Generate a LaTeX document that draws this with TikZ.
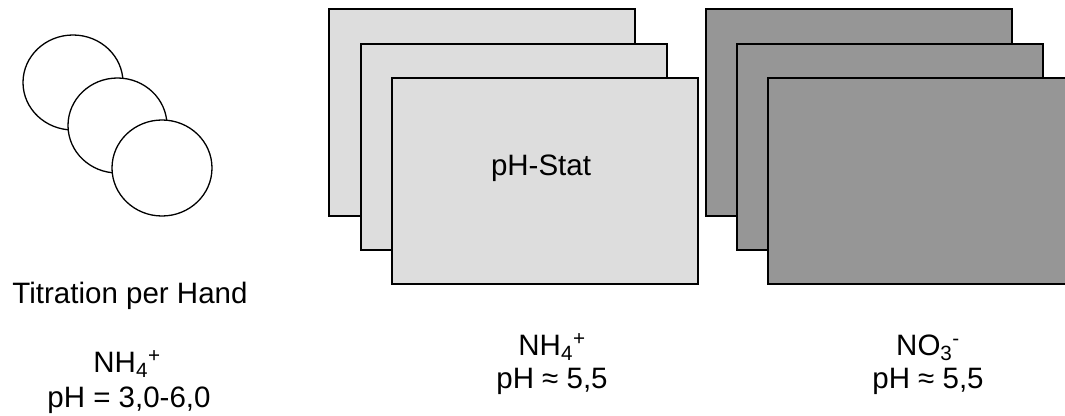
\documentclass[tikz,border=0pt]{standalone}
\usepackage{fontspec}
\setmainfont{Liberation Sans}
\definecolor{lightfill}{HTML}{DDDDDD}
\definecolor{darkfill}{HTML}{969696}
\tikzset{
  disc/.style={draw=black, line width=1.3pt, fill=white},
  lightcard/.style={draw=black, line width=1.4pt, fill=lightfill},
  darkcard/.style={draw=black, line width=1.4pt, fill=darkfill},
  lbl/.style={anchor=base, inner sep=0pt, font=\fontsize{29.5}{34}\selectfont}
}
\begin{document}
\begin{tikzpicture}[x=1pt,y=-1pt]
\useasboundingbox (0,0) rectangle (1065,415);
\clip (0,0) rectangle (1065,415);
% circles
\draw[disc] (73,82.5) ellipse [x radius=50, y radius=47.5];
\draw[disc] (117.5,125.5) ellipse [x radius=49.5, y radius=47.5];
\draw[disc] (162,168) ellipse [x radius=50, y radius=48];
% light cards
\draw[lightcard] (329,9) rectangle (635,216);
\draw[lightcard] (361,44) rectangle (667,250);
\draw[lightcard] (392,78) rectangle (698,284);
% dark cards
\draw[darkcard] (706,9) rectangle (1012,216);
\draw[darkcard] (737,44) rectangle (1043,250);
\draw[darkcard] (768,78) rectangle (1074,284);
% labels
\node[lbl] (stat) at (541,175) {pH-Stat};
\node[lbl] (hand) at (130,303) {Titration per Hand};
\node[lbl] (ion1) at (127,372) {NH\textsubscript{4}\textsuperscript{+}};
\node[lbl] (ph1) at (129,407) {pH = 3,0-6,0};
\node[lbl] (ion2) at (552,355) {NH\textsubscript{4}\textsuperscript{+}};
\node[lbl] (ph2) at (552,388) {pH ≈ 5,5};
\node[lbl] (ion3) at (928,355) {NO\textsubscript{3}\textsuperscript{-}};
\node[lbl] (ph3) at (928,388) {pH ≈ 5,5};
\end{tikzpicture}
\end{document}
